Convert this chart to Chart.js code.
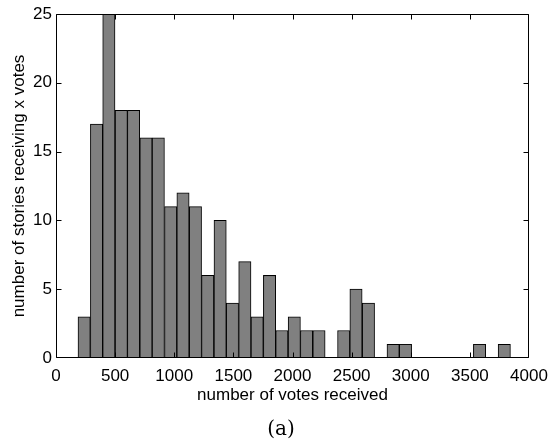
<!DOCTYPE html>
<html>
<head>
<meta charset="utf-8">
<script src="https://cdn.jsdelivr.net/npm/chart.js@4/dist/chart.umd.min.js"></script>
<style>
  html, body { margin: 0; padding: 0; background: #fff; }
  #wrap { position: relative; width: 550px; height: 441px; }
  #c { position: absolute; left: 0; top: 0; }
  #cap { position: absolute; left: 231px; width: 100px; top: 416px; text-align: center;
         font-family: "DejaVu Serif", "Liberation Serif", serif; font-size: 20px; line-height: 24px; color: #000; }
</style>
</head>
<body>
<div id="wrap">
  <canvas id="c" width="550" height="441"></canvas>
  <div id="cap">(a)</div>
</div>
<script>
// Histogram bins (centers, votes) and counts
const binCenters = [238, 343, 447, 552, 656, 761, 865, 970, 1074, 1179, 1283, 1388, 1492, 1597, 1701, 1806, 1910, 2015, 2119, 2224, 2328, 2433, 2537, 2642, 2746, 2851, 2955, 3060, 3164, 3269, 3373, 3478, 3582, 3687, 3791];
const storyCounts = [3, 17, 25, 18, 18, 16, 16, 11, 12, 11, 6, 10, 4, 7, 3, 6, 2, 3, 2, 2, 0, 2, 5, 4, 0, 1, 1, 0, 0, 0, 0, 0, 1, 0, 1];
const xTickValues = [0, 500, 1000, 1500, 2000, 2500, 3000, 3500, 4000];
const yTickValues = [0, 5, 10, 15, 20, 25];
const xAxisTitle = 'number of votes received';
const yAxisTitle = 'number of stories receiving x votes';

const points = binCenters.map((x, i) => ({ x: x, y: storyCounts[i] }));
const FONT = '"Liberation Sans", Arial, Helvetica, sans-serif';

const boxTicks = {
  id: 'boxTicks',
  afterDatasetsDraw(chart) {
    const { ctx, chartArea: a, scales } = chart;
    const L = Math.round(a.left) + 0.5, R = Math.round(a.right) - 0.5;
    const T = Math.round(a.top) + 0.5, B = Math.round(a.bottom) - 0.5;
    ctx.save();
    ctx.strokeStyle = '#000';
    ctx.lineWidth = 1;
    ctx.beginPath();
    ctx.rect(L, T, R - L, B - T);
    const len = 5;
    xTickValues.forEach(v => {
      const px = Math.min(R, Math.max(L, Math.round(scales.x.getPixelForValue(v)) + 0.5));
      ctx.moveTo(px, B); ctx.lineTo(px, B - len);
      ctx.moveTo(px, T); ctx.lineTo(px, T + len);
    });
    yTickValues.forEach(v => {
      const py = Math.min(B, Math.max(T, Math.round(scales.y.getPixelForValue(v)) + 0.5));
      ctx.moveTo(L, py); ctx.lineTo(L + len, py);
      ctx.moveTo(R, py); ctx.lineTo(R - len, py);
    });
    ctx.stroke();
    ctx.restore();
  }
};

new Chart(document.getElementById('c'), {
  type: 'bar',
  data: {
    datasets: [{
      data: points,
      backgroundColor: '#808080',
      borderColor: '#000000',
      borderWidth: 1,
      barPercentage: 1.0,
      categoryPercentage: 1.0
    }]
  },
  options: {
    responsive: false,
    animation: false,
    devicePixelRatio: 1,
    layout: { padding: { left: 0, top: 14, right: 21, bottom: 0 } },
    plugins: { legend: { display: false }, tooltip: { enabled: false } },
    scales: {
      x: {
        type: 'linear',
        offset: false,
        min: 0, max: 4000,
        afterBuildTicks(scale) { scale.ticks = xTickValues.map(v => ({ value: v })); },
        afterFit(scale) { scale.height = 83; scale.paddingLeft = 0; scale.paddingRight = 0; },
        grid: { display: false, drawTicks: false, offset: false },
        border: { display: false },
        ticks: { color: '#000', font: { family: FONT, size: 17 }, padding: 8, maxRotation: 0, autoSkip: false,
                 callback: (v) => String(v) },
        title: { display: true, text: xAxisTitle, color: '#000', font: { family: FONT, size: 17 }, padding: { top: 0, bottom: 35 } }
      },
      y: {
        min: 0, max: 25,
        afterBuildTicks(scale) { scale.ticks = yTickValues.map(v => ({ value: v })); },
        afterFit(scale) { scale.width = 56; scale.paddingTop = 0; scale.paddingBottom = 0; },
        grid: { display: false, drawTicks: false },
        border: { display: false },
        ticks: { color: '#000', font: { family: FONT, size: 17 }, padding: 4, callback: (v) => String(v) },
        title: { display: true, text: yAxisTitle, color: '#000', font: { family: FONT, size: 17 }, padding: { top: 9, bottom: 0 } }
      }
    }
  },
  plugins: [boxTicks]
});
</script>
</body>
</html>
